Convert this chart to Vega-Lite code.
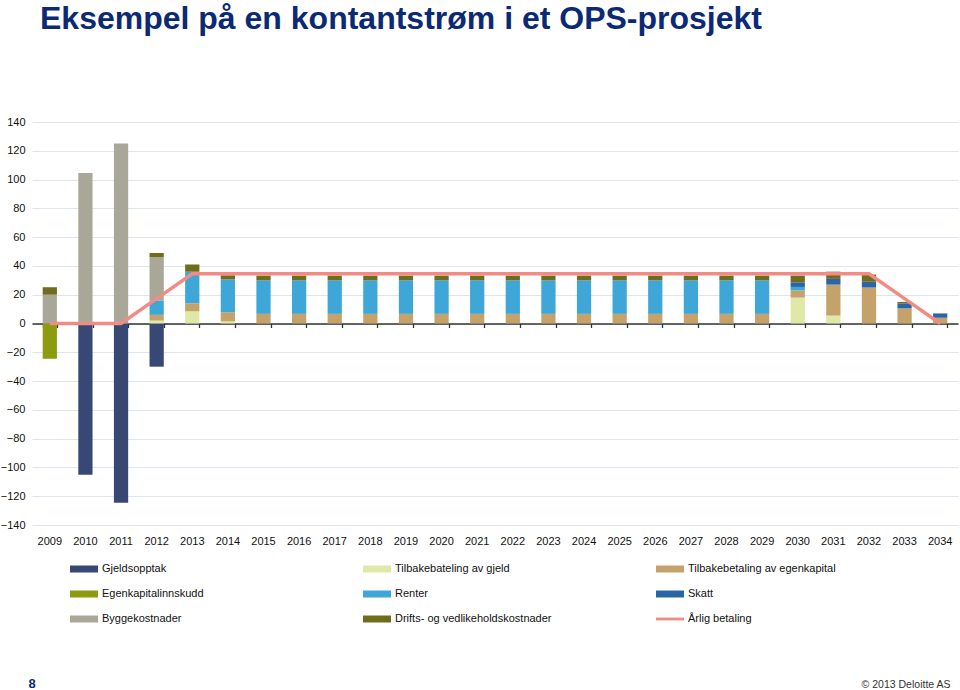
{
  "$schema": "https://vega.github.io/schema/vega-lite/v6.json",
  "width": 926,
  "height": 403,
  "autosize": {"type": "none"},
  "padding": {"left": 32, "top": 122, "right": 2, "bottom": 165},
  "background": "white",
  "title": {
    "text": "Eksempel på en kontantstrøm i et OPS-prosjekt",
    "anchor": "start",
    "frame": "group",
    "dx": 8,
    "offset": 55,
    "baseline": "alphabetic",
    "fontSize": 32,
    "fontWeight": "bold",
    "color": "#0c2a74",
    "font": "Liberation Sans"
  },
  "datasets": {
    "bars": [
      {"year": "2009", "k": "Egenkapitalinnskudd", "v": -24.5},
      {"year": "2009", "k": "Byggekostnader", "v": 20},
      {"year": "2009", "k": "Drifts- og vedlikeholdskostnader", "v": 5.2},
      {"year": "2010", "k": "Gjeldsopptak", "v": -105},
      {"year": "2010", "k": "Byggekostnader", "v": 104.6},
      {"year": "2011", "k": "Gjeldsopptak", "v": -124.5},
      {"year": "2011", "k": "Byggekostnader", "v": 125},
      {"year": "2012", "k": "Gjeldsopptak", "v": -30},
      {"year": "2012", "k": "Tilbakebateling av gjeld", "v": 2},
      {"year": "2012", "k": "Tilbakebetaling av egenkapital", "v": 4},
      {"year": "2012", "k": "Renter", "v": 10},
      {"year": "2012", "k": "Byggekostnader", "v": 30},
      {"year": "2012", "k": "Drifts- og vedlikeholdskostnader", "v": 3},
      {"year": "2013", "k": "Tilbakebateling av gjeld", "v": 8.5},
      {"year": "2013", "k": "Tilbakebetaling av egenkapital", "v": 5.5},
      {"year": "2013", "k": "Renter", "v": 22},
      {"year": "2013", "k": "Drifts- og vedlikeholdskostnader", "v": 5},
      {"year": "2014", "k": "Tilbakebateling av gjeld", "v": 1.5},
      {"year": "2014", "k": "Tilbakebetaling av egenkapital", "v": 6.3},
      {"year": "2014", "k": "Renter", "v": 22.9},
      {"year": "2014", "k": "Drifts- og vedlikeholdskostnader", "v": 2.8},
      {"year": "2015", "k": "Tilbakebetaling av egenkapital", "v": 6.7},
      {"year": "2015", "k": "Renter", "v": 23.3},
      {"year": "2015", "k": "Drifts- og vedlikeholdskostnader", "v": 3.3},
      {"year": "2016", "k": "Tilbakebetaling av egenkapital", "v": 6.7},
      {"year": "2016", "k": "Renter", "v": 23.3},
      {"year": "2016", "k": "Drifts- og vedlikeholdskostnader", "v": 3.3},
      {"year": "2017", "k": "Tilbakebetaling av egenkapital", "v": 6.7},
      {"year": "2017", "k": "Renter", "v": 23.3},
      {"year": "2017", "k": "Drifts- og vedlikeholdskostnader", "v": 3.3},
      {"year": "2018", "k": "Tilbakebetaling av egenkapital", "v": 6.7},
      {"year": "2018", "k": "Renter", "v": 23.3},
      {"year": "2018", "k": "Drifts- og vedlikeholdskostnader", "v": 3.3},
      {"year": "2019", "k": "Tilbakebetaling av egenkapital", "v": 6.7},
      {"year": "2019", "k": "Renter", "v": 23.3},
      {"year": "2019", "k": "Drifts- og vedlikeholdskostnader", "v": 3.3},
      {"year": "2020", "k": "Tilbakebetaling av egenkapital", "v": 6.7},
      {"year": "2020", "k": "Renter", "v": 23.3},
      {"year": "2020", "k": "Drifts- og vedlikeholdskostnader", "v": 3.3},
      {"year": "2021", "k": "Tilbakebetaling av egenkapital", "v": 6.7},
      {"year": "2021", "k": "Renter", "v": 23.3},
      {"year": "2021", "k": "Drifts- og vedlikeholdskostnader", "v": 3.3},
      {"year": "2022", "k": "Tilbakebetaling av egenkapital", "v": 6.7},
      {"year": "2022", "k": "Renter", "v": 23.3},
      {"year": "2022", "k": "Drifts- og vedlikeholdskostnader", "v": 3.3},
      {"year": "2023", "k": "Tilbakebetaling av egenkapital", "v": 6.7},
      {"year": "2023", "k": "Renter", "v": 23.3},
      {"year": "2023", "k": "Drifts- og vedlikeholdskostnader", "v": 3.3},
      {"year": "2024", "k": "Tilbakebetaling av egenkapital", "v": 6.7},
      {"year": "2024", "k": "Renter", "v": 23.3},
      {"year": "2024", "k": "Drifts- og vedlikeholdskostnader", "v": 3.3},
      {"year": "2025", "k": "Tilbakebetaling av egenkapital", "v": 6.7},
      {"year": "2025", "k": "Renter", "v": 23.3},
      {"year": "2025", "k": "Drifts- og vedlikeholdskostnader", "v": 3.3},
      {"year": "2026", "k": "Tilbakebetaling av egenkapital", "v": 6.7},
      {"year": "2026", "k": "Renter", "v": 23.3},
      {"year": "2026", "k": "Drifts- og vedlikeholdskostnader", "v": 3.3},
      {"year": "2027", "k": "Tilbakebetaling av egenkapital", "v": 6.7},
      {"year": "2027", "k": "Renter", "v": 23.3},
      {"year": "2027", "k": "Drifts- og vedlikeholdskostnader", "v": 3.3},
      {"year": "2028", "k": "Tilbakebetaling av egenkapital", "v": 6.7},
      {"year": "2028", "k": "Renter", "v": 23.3},
      {"year": "2028", "k": "Drifts- og vedlikeholdskostnader", "v": 3.3},
      {"year": "2029", "k": "Tilbakebetaling av egenkapital", "v": 6.7},
      {"year": "2029", "k": "Renter", "v": 23.3},
      {"year": "2029", "k": "Drifts- og vedlikeholdskostnader", "v": 3.3},
      {"year": "2030", "k": "Tilbakebateling av gjeld", "v": 18},
      {"year": "2030", "k": "Tilbakebetaling av egenkapital", "v": 5},
      {"year": "2030", "k": "Renter", "v": 2.4},
      {"year": "2030", "k": "Skatt", "v": 3.2},
      {"year": "2030", "k": "Drifts- og vedlikeholdskostnader", "v": 4.7},
      {"year": "2031", "k": "Tilbakebateling av gjeld", "v": 5.5},
      {"year": "2031", "k": "Tilbakebetaling av egenkapital", "v": 21.5},
      {"year": "2031", "k": "Skatt", "v": 4},
      {"year": "2031", "k": "Drifts- og vedlikeholdskostnader", "v": 5},
      {"year": "2032", "k": "Tilbakebetaling av egenkapital", "v": 25},
      {"year": "2032", "k": "Skatt", "v": 4},
      {"year": "2032", "k": "Drifts- og vedlikeholdskostnader", "v": 5},
      {"year": "2033", "k": "Tilbakebetaling av egenkapital", "v": 10.5},
      {"year": "2033", "k": "Skatt", "v": 3.5},
      {"year": "2033", "k": "Drifts- og vedlikeholdskostnader", "v": 1},
      {"year": "2034", "k": "Tilbakebetaling av egenkapital", "v": 4},
      {"year": "2034", "k": "Skatt", "v": 3}
    ],
    "line": [
      {"year": "2009", "betaling": 0},
      {"year": "2010", "betaling": 0},
      {"year": "2011", "betaling": 0},
      {"year": "2012", "betaling": 17.3},
      {"year": "2013", "betaling": 34.5},
      {"year": "2014", "betaling": 34.5},
      {"year": "2015", "betaling": 34.5},
      {"year": "2016", "betaling": 34.5},
      {"year": "2017", "betaling": 34.5},
      {"year": "2018", "betaling": 34.5},
      {"year": "2019", "betaling": 34.5},
      {"year": "2020", "betaling": 34.5},
      {"year": "2021", "betaling": 34.5},
      {"year": "2022", "betaling": 34.5},
      {"year": "2023", "betaling": 34.5},
      {"year": "2024", "betaling": 34.5},
      {"year": "2025", "betaling": 34.5},
      {"year": "2026", "betaling": 34.5},
      {"year": "2027", "betaling": 34.5},
      {"year": "2028", "betaling": 34.5},
      {"year": "2029", "betaling": 34.5},
      {"year": "2030", "betaling": 34.5},
      {"year": "2031", "betaling": 34.5},
      {"year": "2032", "betaling": 34.5},
      {"year": "2033", "betaling": 17.3},
      {"year": "2034", "betaling": 0}
    ]
  },
  "layer": [
    {
      "data": {"name": "bars"},
      "transform": [
        {"calculate": "indexof(['Gjeldsopptak','Egenkapitalinnskudd','Tilbakebateling av gjeld','Tilbakebetaling av egenkapital','Renter','Skatt','Byggekostnader','Drifts- og vedlikeholdskostnader'], datum.k)", "as": "o"}
      ],
      "mark": {"type": "bar"},
      "encoding": {
        "x": {
          "field": "year", "type": "ordinal",
          "scale": {"paddingInner": 0.6, "paddingOuter": 0.3},
          "axis": {
            "labelAngle": 0, "domain": false, "ticks": false, "grid": false,
            "labelPadding": 10, "labelFontSize": 11, "labelColor": "#111",
            "title": "© 2013 Deloitte AS",
            "titleAnchor": "end", "titleAlign": "right", "titleBaseline": "middle",
            "titleX": 918, "titleY": 159, "titleFontSize": 10.5, "titleFontWeight": "normal", "titleColor": "#333"
          }
        },
        "y": {
          "field": "v", "type": "quantitative", "stack": "zero",
          "scale": {"domain": [-140, 140], "nice": false},
          "axis": {
            "values": [-140, -120, -100, -80, -60, -40, -20, 0, 20, 40, 60, 80, 100, 120, 140],
            "grid": true, "gridColor": "#dde6ee", "domain": false, "ticks": false,
            "labelPadding": 7, "labelFontSize": 11, "labelColor": "#111",
            "title": "8", "titleAngle": 0, "titleX": -0.5, "titleY": 561,
            "titleAlign": "center", "titleBaseline": "middle",
            "titleFontSize": 13, "titleFontWeight": "bold", "titleColor": "#0c2a74"
          }
        },
        "color": {
          "field": "k", "type": "nominal",
          "scale": {
            "domain": ["Gjeldsopptak", "Tilbakebateling av gjeld", "Tilbakebetaling av egenkapital", "Egenkapitalinnskudd", "Renter", "Skatt", "Byggekostnader", "Drifts- og vedlikeholdskostnader", "Årlig betaling"],
            "range": ["#374874", "#dfe8a6", "#c4a26a", "#8c9b0f", "#3fa6d8", "#2a66a6", "#a9a898", "#6f6d1c", "#f28b84"]
          },
          "legend": {
            "title": null, "orient": "none", "legendX": 38, "legendY": 433,
            "columns": 3, "direction": "horizontal", "gridAlign": "all",
            "columnPadding": 104, "rowPadding": 6,
            "symbolSize": 784, "symbolType": "M-1,-0.25H1V0.25H-1Z",
            "symbolStrokeWidth": 0, "symbolOpacity": 1,
            "labelFontSize": 11, "labelOffset": 4, "labelColor": "#111", "labelLimit": 300,
            "encode": {
              "symbols": {
                "update": {
                  "shape": {"signal": "datum.label == 'Årlig betaling' ? 'M-1,-0.1H1V0.1H-1Z' : 'M-1,-0.25H1V0.25H-1Z'"},
                  "fill": {"signal": "scale('color', datum.value)"},
                  "fillOpacity": {"value": 1},
                  "opacity": {"value": 1},
                  "strokeWidth": {"value": 0}
                }
              }
            }
          }
        },
        "order": {"field": "o", "type": "quantitative"}
      }
    },
    {
      "data": {"name": "line"},
      "mark": {"type": "line", "strokeWidth": 3.5},
      "encoding": {
        "x": {
          "field": "year", "type": "ordinal",
          "axis": {
            "orient": "bottom", "offset": -201.5, "labels": false, "grid": false,
            "domain": true, "domainColor": "#333", "domainWidth": 1.3,
            "ticks": true, "tickBand": "extent", "tickSize": 4, "tickColor": "#333", "tickWidth": 1.3,
            "title": null
          }
        },
        "y": {
          "field": "betaling", "type": "quantitative",
          "axis": {
            "values": [-140, -120, -100, -80, -60, -40, -20, 0, 20, 40, 60, 80, 100, 120, 140],
            "grid": true, "gridColor": "#dde6ee", "domain": false, "ticks": false,
            "labelPadding": 7, "labelFontSize": 11, "labelColor": "#111",
            "title": "8", "titleAngle": 0, "titleX": -0.5, "titleY": 561,
            "titleAlign": "center", "titleBaseline": "middle",
            "titleFontSize": 13, "titleFontWeight": "bold", "titleColor": "#0c2a74"
          }
        },
        "color": {"datum": "Årlig betaling", "type": "nominal"}
      }
    }
  ],
  "resolve": {"axis": {"x": "independent"}},
  "config": {
    "view": {"stroke": null},
    "font": "Liberation Sans"
  }
}
